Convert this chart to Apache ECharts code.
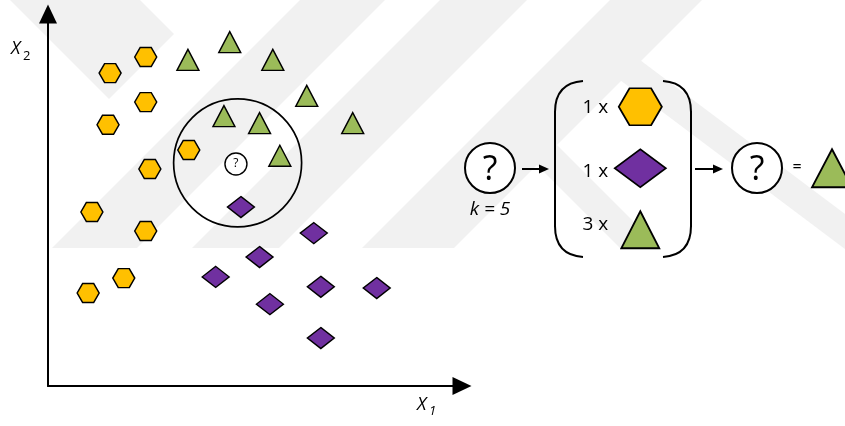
<!DOCTYPE html>
<html>
<head>
<meta charset="utf-8">
<script src="https://cdn.jsdelivr.net/npm/echarts@6/dist/echarts.min.js"></script>
<style>html,body{margin:0;padding:0;background:#fff}#c{width:845px;height:426px}</style>
</head>
<body>
<div id="c"></div>
<script>
// ---- data (feature space units) ----
var hexagonX = [2.36, 1.50, 2.36, 1.45, 2.46, 3.40, 1.06, 2.36, 1.83, 0.97];
var hexagonY = [7.96, 7.57, 6.87, 6.32, 5.25, 5.71, 4.21, 3.75, 2.61, 2.25];
var triangleX = [4.39, 3.38, 5.43, 6.25, 4.25, 5.11, 7.36, 5.60];
var triangleY = [8.32, 7.89, 7.89, 7.02, 6.53, 6.36, 6.36, 5.57];
var diamondX = [4.66, 6.42, 5.11, 4.05, 6.59, 7.94, 5.36, 6.59];
var diamondY = [4.33, 3.70, 3.12, 2.64, 2.40, 2.37, 1.98, 1.16];
var queryPoint = [4.54, 5.37];
var neighbourhoodCenter = [4.58, 5.40];
var k = 5;
var voteClasses = ['hexagon', 'diamond', 'triangle'];
var voteCounts = [1, 1, 3];
var predictedClass = 'triangle';

var COLORS = {hexagon: '#FFC000', diamond: '#7030A0', triangle: '#9BBB59'};
var HEX_PATH = 'path://M0,8.66 L5,0 L15,0 L20,8.66 L15,17.32 L5,17.32 Z';
var SYMBOLS = {hexagon: HEX_PATH, diamond: 'diamond', triangle: 'triangle'};
var FONT = '"Open Sans", "Liberation Sans", sans-serif';
var WM = '#f1f1f1';

function zip(xs, ys) { return xs.map(function (x, i) { return [x, ys[i]]; }); }

var chart = echarts.init(document.getElementById('c'), null, {renderer: 'canvas'});

var noAxisBits = {splitLine: {show: false}, axisTick: {show: false}, axisLabel: {show: false}};

var voteSizes = {hexagon: [43, 37], diamond: [51, 38], triangle: [38, 37]};
var labelDy = {hexagon: 1, diamond: 3, triangle: -5};
var voteData = voteClasses.map(function (c, i) {
  return {
    value: [1, i + 0.5],
    symbol: SYMBOLS[c],
    symbolSize: voteSizes[c],
    itemStyle: {color: COLORS[c]},
    label: {show: true, formatter: voteCounts[i] + ' x', offset: [-32, labelDy[c]]}
  };
});

function wm(points) {
  return {type: 'polygon', z: -10, silent: true, shape: {points: points}, style: {fill: WM}};
}

var option = {
  animation: false,
  backgroundColor: '#ffffff',
  grid: [
    {left: 48, top: 14, width: 414, height: 372},
    {left: 619, top: 76, width: 213, height: 184.5}
  ],
  xAxis: [
    Object.assign({type: 'value', gridIndex: 0, min: 0, max: 10,
      axisLine: {show: true, onZero: false, symbol: ['none', 'triangle'], symbolSize: [18, 19],
        lineStyle: {color: '#000', width: 2}}}, noAxisBits),
    Object.assign({type: 'value', gridIndex: 1, min: 0, max: 10, show: false}, noAxisBits)
  ],
  yAxis: [
    Object.assign({type: 'value', gridIndex: 0, min: 0, max: 9,
      axisLine: {show: true, onZero: false, symbol: ['none', 'triangle'], symbolSize: [18, 19],
        lineStyle: {color: '#000', width: 2}}}, noAxisBits),
    Object.assign({type: 'value', gridIndex: 1, min: 0, max: 3, inverse: true, show: false}, noAxisBits)
  ],
  series: [
    {
      type: 'scatter', xAxisIndex: 0, yAxisIndex: 0, silent: true, z: 1,
      data: [neighbourhoodCenter], symbol: 'circle', symbolSize: 128,
      itemStyle: {color: 'rgba(255,255,255,0)', borderColor: '#000', borderWidth: 1.7, opacity: 1}
    },
    {
      type: 'scatter', name: 'hexagon', xAxisIndex: 0, yAxisIndex: 0, silent: true, z: 3,
      data: zip(hexagonX, hexagonY), symbol: HEX_PATH, symbolSize: [22, 19],
      itemStyle: {color: COLORS.hexagon, borderColor: '#000', borderWidth: 1.4, opacity: 1}
    },
    {
      type: 'scatter', name: 'triangle', xAxisIndex: 0, yAxisIndex: 0, silent: true, z: 3,
      data: zip(triangleX, triangleY), symbol: 'triangle', symbolSize: [22, 21],
      itemStyle: {color: COLORS.triangle, borderColor: '#000', borderWidth: 1.4, opacity: 1}
    },
    {
      type: 'scatter', name: 'diamond', xAxisIndex: 0, yAxisIndex: 0, silent: true, z: 3,
      data: zip(diamondX, diamondY), symbol: 'diamond', symbolSize: [27, 21],
      itemStyle: {color: COLORS.diamond, borderColor: '#000', borderWidth: 1.4, opacity: 1}
    },
    {
      type: 'scatter', name: 'query', xAxisIndex: 0, yAxisIndex: 0, silent: true, z: 4,
      data: [queryPoint], symbol: 'circle', symbolSize: 22,
      itemStyle: {color: '#fff', borderColor: '#000', borderWidth: 1.4, opacity: 1},
      label: {show: true, position: 'inside', formatter: '?', color: '#000', fontSize: 12, fontFamily: FONT}
    },
    {
      type: 'scatter', name: 'votes', xAxisIndex: 1, yAxisIndex: 1, silent: true, z: 3,
      data: voteData,
      itemStyle: {borderColor: '#000', borderWidth: 1.8, opacity: 1},
      label: {position: 'inside', align: 'right', color: '#000', fontSize: 19, fontFamily: FONT}
    },
    {
      type: 'scatter', name: 'prediction', xAxisIndex: 1, yAxisIndex: 1, silent: true, z: 3,
      data: [[10, 1.5]], symbol: SYMBOLS[predictedClass], symbolSize: [40, 38],
      itemStyle: {color: COLORS[predictedClass], borderColor: '#000', borderWidth: 1.8, opacity: 1}
    }
  ],
  graphic: [
    // faint background watermark
    wm([[10, 0], [140, 0], [174, 34], [109, 99]]),
    wm([[300, 0], [385, 0], [137, 248], [52, 248]]),
    wm([[440, 0], [527, 0], [279, 248], [192, 248]]),
    wm([[610, 0], [702, 0], [454, 248], [362, 248]]),
    wm([[520, 108], [660, 248], [620, 248], [500, 128]]),
    wm([[600, 30], [845, 214], [845, 249], [600, 65]]),
    // axis titles
    {type: 'text', left: 11, top: 40, style: {text: 'X', font: 'italic 18px ' + FONT, fill: '#000'}},
    {type: 'text', left: 23, top: 50, style: {text: '2', font: '13px ' + FONT, fill: '#000'}},
    {type: 'text', left: 417, top: 396, style: {text: 'X', font: 'italic 18px ' + FONT, fill: '#000'}},
    {type: 'text', left: 429, top: 405, style: {text: '1', font: 'italic 13px ' + FONT, fill: '#000'}},
    // query circle on the right
    {type: 'circle', shape: {cx: 490, cy: 168, r: 25}, style: {fill: '#fff', stroke: '#000', lineWidth: 2}},
    {type: 'text', x: 490, y: 170, style: {text: '?', font: '34px ' + FONT, fill: '#000', align: 'center', verticalAlign: 'middle'}},
    {type: 'text', x: 490, y: 210, style: {text: 'k = ' + k, font: 'italic 19px ' + FONT, fill: '#000', align: 'center', verticalAlign: 'middle'}},
    // arrow 1
    {type: 'line', shape: {x1: 522, y1: 169, x2: 541, y2: 169}, style: {stroke: '#000', lineWidth: 2}},
    {type: 'polygon', shape: {points: [[539, 164.5], [549, 169], [539, 173.5]]}, style: {fill: '#000'}},
    // brackets
    {type: 'bezierCurve', shape: {x1: 583, y1: 81, cpx1: 555, cpy1: 83, x2: 555, y2: 112}, style: {stroke: '#000', lineWidth: 2, fill: 'none'}},
    {type: 'line', shape: {x1: 555, y1: 111, x2: 555, y2: 227}, style: {stroke: '#000', lineWidth: 2}},
    {type: 'bezierCurve', shape: {x1: 555, y1: 226, cpx1: 555, cpy1: 255, x2: 583, y2: 257}, style: {stroke: '#000', lineWidth: 2, fill: 'none'}},
    {type: 'bezierCurve', shape: {x1: 663, y1: 81, cpx1: 691, cpy1: 83, x2: 691, y2: 112}, style: {stroke: '#000', lineWidth: 2, fill: 'none'}},
    {type: 'line', shape: {x1: 691, y1: 111, x2: 691, y2: 227}, style: {stroke: '#000', lineWidth: 2}},
    {type: 'bezierCurve', shape: {x1: 691, y1: 226, cpx1: 691, cpy1: 255, x2: 663, y2: 257}, style: {stroke: '#000', lineWidth: 2, fill: 'none'}},
    // arrow 2
    {type: 'line', shape: {x1: 695, y1: 169, x2: 714, y2: 169}, style: {stroke: '#000', lineWidth: 2}},
    {type: 'polygon', shape: {points: [[713, 164.5], [723, 169], [713, 173.5]]}, style: {fill: '#000'}},
    // result circle
    {type: 'circle', shape: {cx: 757, cy: 168, r: 25}, style: {fill: '#fff', stroke: '#000', lineWidth: 2}},
    {type: 'text', x: 757, y: 170, style: {text: '?', font: '34px ' + FONT, fill: '#000', align: 'center', verticalAlign: 'middle'}},
    {type: 'text', x: 797, y: 167, style: {text: '=', font: '16px ' + FONT, fill: '#000', align: 'center', verticalAlign: 'middle'}}
  ]
};
chart.setOption(option);
</script>
</body>
</html>
